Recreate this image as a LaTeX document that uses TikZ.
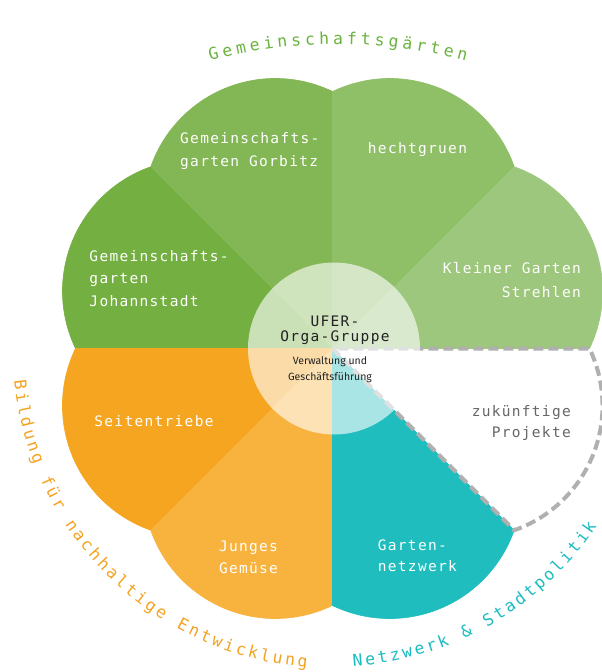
\documentclass[tikz,border=0pt]{standalone}
\usepackage{fontspec}
\usetikzlibrary{calc}
\newfontfamily\petalfont{DejaVu Sans Mono}[LetterSpace=9]
\newfontfamily\arcfont{DejaVu Sans Mono}
\newfontfamily\smallsans{Fira Sans}
\definecolor{johann}{HTML}{74AF42}
\definecolor{gorbitz}{HTML}{83B654}
\definecolor{hecht}{HTML}{8FBF67}
\definecolor{kleiner}{HTML}{9DC77C}
\definecolor{seiten}{HTML}{F5A51F}
\definecolor{junges}{HTML}{F8B33F}
\definecolor{garten}{HTML}{1FBDBD}
\definecolor{dashgray}{HTML}{B0B0B0}
\definecolor{greentxt}{HTML}{6AB43E}
\definecolor{orangetxt}{HTML}{F4A322}
\definecolor{tealtxt}{HTML}{1BBCC2}
\definecolor{futuretxt}{HTML}{666666}
\definecolor{centertxt}{HTML}{222222}
\tikzset{
  lbl/.style={inner sep=0pt, text=white, font=\petalfont\fontsize{14.5}{17}\selectfont},
  futurelbl/.style={lbl, text=futuretxt},
  centerlbl/.style={lbl, text=centertxt},
  smalllbl/.style={inner sep=0pt, text=centertxt, font=\smallsans\fontsize{10.5}{12}\selectfont},
  arcchar/.style={inner sep=0pt, anchor=base, font=\arcfont\fontsize{16.5}{18}\selectfont},
  dashline/.style={draw=dashgray, line width=4pt, dash pattern=on 10pt off 5pt},
  hub/.style={fill=white, fill opacity=0.62},
  petalfill/.style={fill=#1, draw=#1, line width=0.6pt, line join=round},
}
\begin{document}
\begin{tikzpicture}[x=1pt,y=1pt]
\useasboundingbox (-332.5,-323.5) rectangle (269.5,348.5);
\fill[white] (-332.5,-323.5) rectangle (269.5,348.5);
% petals
\foreach \a/\c in {157.5/johann,112.5/gorbitz,67.5/hecht,22.5/kleiner,202.5/seiten,247.5/junges,292.5/garten}
  \path[petalfill=\c] (0,0) -- (\a-22.5:257pt) arc[start angle=\a-48.2, end angle=\a+48.2, radius=131.9pt] -- cycle;
% future projects (dashed)
\draw[dashline] (0,0) -- (-45:257pt) arc[start angle=-70.7, end angle=25.7, radius=131.9pt] -- cycle;
% hub
\fill[hub] (1.5,0) circle[radius=86pt];
% petal labels
\node[lbl, anchor=base west] (gor1) at (-152.5,204.5) {Gemeinschafts-};
\node[lbl, anchor=base west] (gor2) at (-152.5,181.5) {garten Gorbitz};
\node[lbl, anchor=base] (hecht) at (85,194.5) {hechtgruen};
\node[lbl, anchor=base west] (joh1) at (-243.2,86.8) {Gemeinschafts-};
\node[lbl, anchor=base west] (joh2) at (-243.2,65.2) {garten};
\node[lbl, anchor=base west] (joh3) at (-243.2,41.8) {Johannstadt};
\node[lbl, anchor=base east] (kl1) at (248.5,74.5) {Kleiner Garten};
\node[lbl, anchor=base east] (kl2) at (248.5,51.2) {Strehlen};
\node[lbl, anchor=base] (seit) at (-178.5,-77.5) {Seitentriebe};
\node[lbl, anchor=base] (jung1) at (-84,-203) {Junges};
\node[lbl, anchor=base] (jung2) at (-84,-224.8) {Gemüse};
\node[lbl, anchor=base west] (gn1) at (45.2,-201.5) {Garten-};
\node[lbl, anchor=base west] (gn2) at (45.2,-223.2) {netzwerk};
\node[futurelbl, anchor=base east] (zk1) at (238.5,-68.2) {zukünftige};
\node[futurelbl, anchor=base east] (zk2) at (238.5,-88.5) {Projekte};
\node[centerlbl, anchor=base] (uf1) at (2.5,21.8) {UFER-};
\node[centerlbl, anchor=base] (uf2) at (2.5,6.8) {Orga-Gruppe};
\node[smalllbl, anchor=base] (vw1) at (-2.5,-15.8) {Verwaltung und};
\node[smalllbl, anchor=base] (vw2) at (-2.5,-31.5) {Geschäftsführung};
% arc texts
\foreach \i/\c in {0/G,1/e,2/m,3/e,4/i,5/n,6/s,7/c,8/h,9/a,10/f,11/t,12/s,13/g,14/ä,15/r,16/t,17/e,18/n}{
  \pgfmathsetmacro\ang{104.36-\i*1.596}
  \node[arcchar, text=greentxt, rotate=\ang-90] (g\i) at ($(5.5,-191.5)+(\ang:496pt)$) {\c};
}
\foreach \i/\c in {0/B,1/i,2/l,3/d,4/u,5/n,6/g,8/f,9/ü,10/r,12/n,13/a,14/c,15/h,16/h,17/a,18/l,19/t,20/i,21/g,22/e,24/E,25/n,26/t,27/w,28/i,29/c,30/k,31/l,32/u,33/n,34/g}{
  \pgfmathsetmacro\ang{186.7+\i*2.29}
  \node[arcchar, text=orangetxt, rotate=\ang+90] (b\i) at (\ang:320pt) {\c};
}
\foreach \i/\c in {0/N,1/e,2/t,3/z,4/w,5/e,6/r,7/k,9/\&,11/S,12/t,13/a,14/d,15/t,16/p,17/o,18/l,19/i,20/t,21/i,22/k}{
  \pgfmathsetmacro\ang{274.6+\i*2.3}
  \node[arcchar, text=tealtxt, rotate=\ang+90] (n\i) at (\ang:318.5pt) {\c};
}
\end{tikzpicture}
\end{document}
